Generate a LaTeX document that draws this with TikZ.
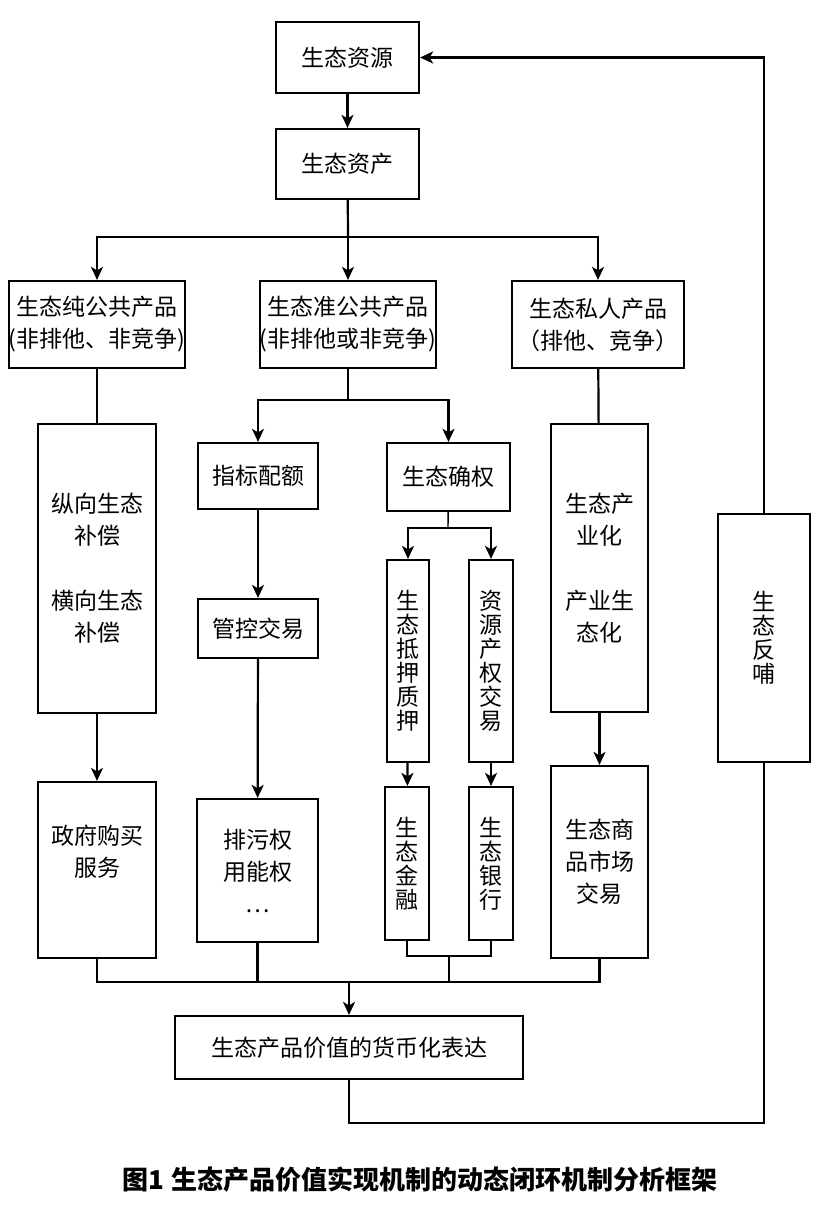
\documentclass[tikz,border=0pt]{standalone}
\usepackage{fontspec}
\newfontfamily\cnfont{Noto Sans CJK SC}
\usetikzlibrary{arrows.meta}

\begin{document}
\begin{tikzpicture}[x=1pt,y=-1pt,line width=2.2pt,
    box/.style={draw,inner sep=0pt,align=center,font=\cnfont\fontsize{23}{32}\selectfont},
    vbox/.style={box,font=\cnfont\fontsize{23}{24}\selectfont},
    arr/.style={-{Stealth[length=13pt,width=12pt,inset=3.5pt]}}]
    \useasboundingbox (0,0) rectangle (817,1210);
    % top
    \node[box,minimum width=143pt,minimum height=71pt] (res) at (347.5,57.5) {生态资源};
    \node[box,minimum width=143pt,minimum height=70pt] (asset) at (347.5,164) {生态资产};
    \node[box,minimum width=174pt,minimum height=87pt] (pure) at (97,324.5) {生态纯公共产品\\(非排他、非竞争)};
    \node[box,minimum width=172pt,minimum height=87pt] (quasi) at (348,324.5) {生态准公共产品\\(非排他或非竞争)};
    \node[box,minimum width=172pt,minimum height=87pt] (priv) at (598,324.5) {生态私人产品\\（排他、竞争）};
    % middle
    \node[box,minimum width=118pt,minimum height=289pt] (comp) at (97,568.5) {纵向生态\\补偿\\[33pt]横向生态\\补偿};
    \node[box,minimum width=120pt,minimum height=66pt] (quota) at (258,476) {指标配额};
    \node[box,minimum width=123pt,minimum height=68pt] (right) at (448.5,477) {生态确权};
    \node[box,minimum width=97pt,minimum height=288pt] (ind) at (599.5,568) {生态产\\业化\\[33pt]产业生\\态化};
    \node[vbox,minimum width=92pt,minimum height=248pt] (feed) at (764,638) {生\\态\\反\\哺};
    \node[box,minimum width=120pt,minimum height=59pt] (ctrl) at (258,628.5) {管控交易};
    \node[vbox,minimum width=42pt,minimum height=202pt] (pledge) at (408,661) {生\\态\\抵\\押\\质\\押};
    \node[vbox,minimum width=44pt,minimum height=202pt] (trade) at (491,661) {资\\源\\产\\权\\交\\易};
    % bottom
    \node[box,minimum width=118pt,minimum height=176pt] (gov) at (97,870) {政府购买\\服务\\[6pt]};
    \node[box,minimum width=121pt,minimum height=143pt] (emit) at (257.5,870.5) {排污权\\用能权\\…};
    \node[vbox,minimum width=44pt,minimum height=153pt] (fin) at (407,863.5) {生\\态\\金\\融};
    \node[vbox,minimum width=44pt,minimum height=153pt] (bank) at (491,863.5) {生\\态\\银\\行};
    \node[box,minimum width=97pt,minimum height=192pt] (mkt) at (599.5,862) {生态商\\品市场\\交易};
    \node[box,minimum width=348pt,minimum height=63pt] (money) at (349,1047.5) {生态产品价值的货币化表达};
    \node[font=\cnfont\bfseries\fontsize{26}{30}\selectfont] (cap) at (420,1180) {图1\hspace{8pt}生态产品价值实现机制的动态闭环机制分析框架};
    % split points
    \coordinate (s1) at (348,237);
    \coordinate (s2) at (348,400);
    \coordinate (s3) at (448,528);
    \coordinate (j1) at (449,956);
    \coordinate (m1) at (349,982);
    \coordinate (lp) at (764,1123);
    % connectors
    \draw[arr] (res) -- (asset);
    \draw (asset) -- (s1);
    \foreach \n in {pure,quasi,priv}
        \draw[arr] (s1) -| (\n.north);
    \draw (pure) -- (comp);
    \draw (priv) -- (ind);
    \draw (quasi) -- (s2);
    \foreach \n in {quota,right}
        \draw[arr] (s2) -| (\n.north);
    \draw[line width=1.4pt] (right) -- (s3);
    \foreach \n in {pledge,trade}
        \draw[arr] (s3) -| (\n.north);
    \draw[arr] (quota) -- (ctrl);
    \draw[arr] (ctrl) -- (emit);
    \draw[arr] (comp) -- (gov);
    \draw[arr] (ind) -- (mkt);
    \draw[arr] (pledge) -- (fin);
    \draw[arr] (trade) -- (bank);
    \draw (fin.south) |- (j1) -| (bank.south);
    \foreach \n in {gov,emit,j1,mkt}
        \draw (\n) |- (m1);
    \draw[arr] (m1) -- (money);
    \draw (money.south) |- (lp) -- (feed.south);
    \draw[arr] (feed.north) |- (res.east);
\end{tikzpicture}
\end{document}
